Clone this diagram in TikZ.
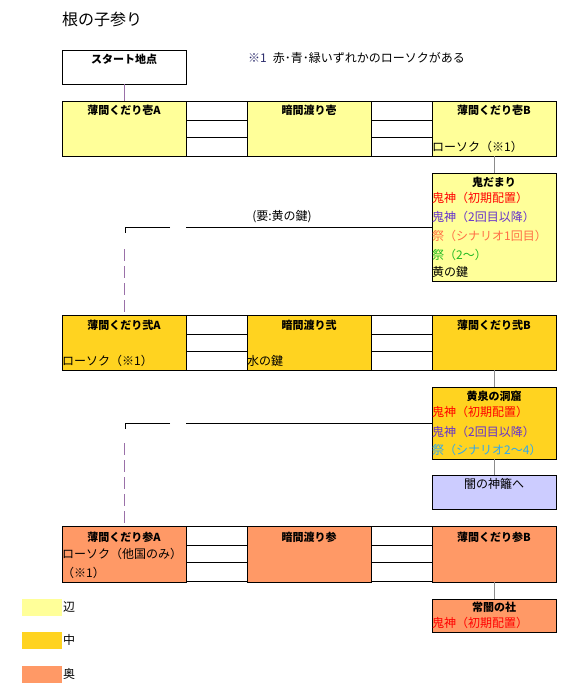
\documentclass[tikz,border=0pt]{standalone}
\usepackage{fontspec}
\setmainfont{Noto Sans CJK JP}
\usepackage{xcolor}
\usepackage{tikz}
\usetikzlibrary{positioning}

\definecolor{henyellow}{HTML}{FFFF99}
\definecolor{nakagold}{HTML}{FFD320}
\definecolor{okuorange}{HTML}{FF9966}
\definecolor{yamilav}{HTML}{CCCCFF}
\definecolor{kired}{HTML}{FF0000}
\definecolor{kipurple}{HTML}{6633CC}
\definecolor{matsuriorange}{HTML}{FF6F45}
\definecolor{matsurigreen}{HTML}{22BB22}
\definecolor{matsuriblue}{HTML}{30A8F0}
\definecolor{notenavy}{HTML}{2B2B6B}
\definecolor{startlink}{HTML}{9A70A8}
\definecolor{linkgray}{HTML}{8C8C8C}

\tikzset{
  room/.style={draw, line width=1pt, anchor=north west, minimum width=124pt, inner sep=0pt, outer sep=0pt},
  cell/.style={draw, line width=1pt, anchor=north west, fill=white, minimum width=61pt, inner sep=0pt, outer sep=0pt},
  swatch/.style={anchor=north west, minimum width=40pt, minimum height=17pt, inner sep=0pt},
  head/.style={font=\fontsize{11}{14}\selectfont\bfseries, inner sep=0pt},
  note/.style={anchor=west, inner sep=0pt},
  link/.style={draw=linkgray, line width=0.9pt},
  wire/.style={draw=black, line width=1pt},
  passage/.style={draw=startlink, line width=0.9pt, dash pattern=on 12pt off 5pt}
}

\begin{document}
\begin{tikzpicture}[x=1pt, y=-1pt, every node/.style={font=\fontsize{12}{14}\selectfont}]
\useasboundingbox (0,0) rectangle (583,696);

% Title and footnote
\node [note, font=\fontsize{16}{18}\selectfont] (title) at (62,19) {根の子参り};
\node [note] (mark1) at (248,58) {\textcolor{notenavy}{※1}\hspace{0.5em}赤･青･緑いずれかのローソクがある};

% Start
\node (start) at (62,50) [room, minimum height=34pt] {};
\node (startname) at (124,59) [head] {スタート地点};

% Row 1 (henyellow)
\node (kuda1A) at (62,101) [room, minimum height=55pt, fill=henyellow] {};
\node (wata1) at (247,101) [room, minimum height=55pt, fill=henyellow] {};
\node (kuda1B) at (432,101) [room, minimum height=55pt, fill=henyellow] {};
\node (kuda1Aname) at (124,110) [head] {薄間くだり壱A};
\node (wata1name) at (309,110) [head] {暗間渡り壱};
\node (kuda1Bname) at (494,110) [head] {薄間くだり壱B};
\node (kuda1Bitem) at (432,147) [note] {ローソク（※1）};

% Row 2 (nakagold)
\node (kuda2A) at (62,315) [room, minimum height=55pt, fill=nakagold] {};
\node (wata2) at (247,315) [room, minimum height=55pt, fill=nakagold] {};
\node (kuda2B) at (432,315) [room, minimum height=55pt, fill=nakagold] {};
\node (kuda2Aname) at (124,325) [head] {薄間くだり弐A};
\node (wata2name) at (309,325) [head] {暗間渡り弐};
\node (kuda2Bname) at (494,325) [head] {薄間くだり弐B};
\node (kuda2Aitem) at (62,361) [note] {ローソク（※1）};
\node (wata2item) at (247,361) [note] {水の鍵};

% Row 3 (okuorange)
\node (kuda3A) at (62,526) [room, minimum height=56pt, fill=okuorange] {};
\node (wata3) at (247,526) [room, minimum height=56pt, fill=okuorange] {};
\node (kuda3B) at (432,526) [room, minimum height=56pt, fill=okuorange] {};
\node (kuda3Aname) at (124,537) [head] {薄間くだり参A};
\node (wata3name) at (309,537) [head] {暗間渡り参};
\node (kuda3Bname) at (494,537) [head] {薄間くだり参B};
\node (kuda3Aitem) at (62,554) [note] {ローソク（他国のみ）};
\node (kuda3Aitemb) at (62,573) [note] {（※1）};

% Passage cells between rooms
\foreach \row/\top in {1/101, 2/315, 3/526} {
  \foreach \col/\x in {a/186, b/371} {
    \node (cell\row\col1) at (\x,\top) [cell, minimum height=19pt] {};
    \node (cell\row\col2) at (\x,\top+19) [cell, minimum height=17pt] {};
    \node (cell\row\col3) at (\x,\top+36) [cell, minimum height=19pt] {};
  }
}

% Side rooms
\node (onidamari) at (432,173) [room, minimum height=108pt, fill=henyellow] {};
\node (onidamariname) at (494,182) [head] {鬼だまり};
\node (oni1) at (432,198) [note, text=kired] {鬼神（初期配置）};
\node (oni2) at (432,217) [note, text=kipurple] {鬼神（2回目以降）};
\node (oni3) at (432,236) [note, text=matsuriorange] {祭（シナリオ1回目）};
\node (oni4) at (432,255) [note, text=matsurigreen] {祭（2〜）};
\node (oni5) at (432,272) [note] {黄の鍵};

\node (yomi) at (432,387) [room, minimum height=72pt, fill=nakagold] {};
\node (yominame) at (494,396) [head] {黄泉の洞窟};
\node (yomi1) at (432,412) [note, text=kired] {鬼神（初期配置）};
\node (yomi2) at (432,432) [note, text=kipurple] {鬼神（2回目以降）};
\node (yomi3) at (432,450) [note, text=matsuriblue] {祭（シナリオ2〜4）};

\node (himorogi) at (432,475) [room, minimum height=34pt, fill=yamilav] {};
\node (himoroginame) at (494,484) [inner sep=0pt] {闇の神籬へ};

\node (tokoyami) at (432,599) [room, minimum height=33pt, fill=okuorange] {};
\node (tokoyaminame) at (494,607) [head] {常闇の社};
\node (toko1) at (432,623) [note, text=kired] {鬼神（初期配置）};

% Links
\draw [draw=startlink, line width=0.9pt] (start.south) -- (kuda1A.north);
\draw [link] (kuda1B.south) -- (onidamari.north);
\draw [link] (kuda2B.south) -- (yomi.north);
\draw [link] (yomi.south) -- (himorogi.north);
\draw [link] (kuda3B.south) -- (tokoyami.north);

% Shortcuts back to A side
\coordinate (key1R) at (186,227);
\coordinate (key1L) at (170,227);
\coordinate (key1T) at (125,233);
\coordinate (pass1) at (124,249);
\draw [wire] (onidamari.west) -- (key1R);
\draw [wire] (key1L) -| (key1T);
\node (key1label) at (282,217) [inner sep=0pt] {(要:黄の鍵)};
\draw [passage] (pass1) -- (kuda2A.north);

\coordinate (key2R) at (186,423);
\coordinate (key2L) at (170,423);
\coordinate (key2T) at (125,429);
\coordinate (pass2) at (124,443);
\draw [wire] (yomi.west) -- (key2R);
\draw [wire] (key2L) -| (key2T);
\draw [passage] (pass2) -- (kuda3A.north);

% Legend
\node (leghen) at (22,599) [swatch, fill=henyellow] {};
\node (legnaka) at (22,632) [swatch, fill=nakagold] {};
\node (legoku) at (22,666) [swatch, fill=okuorange] {};
\node (leghenname) at (63,607) [note] {辺};
\node (legnakaname) at (63,640) [note] {中};
\node (legokuname) at (63,674) [note] {奥};
\end{tikzpicture}
\end{document}
